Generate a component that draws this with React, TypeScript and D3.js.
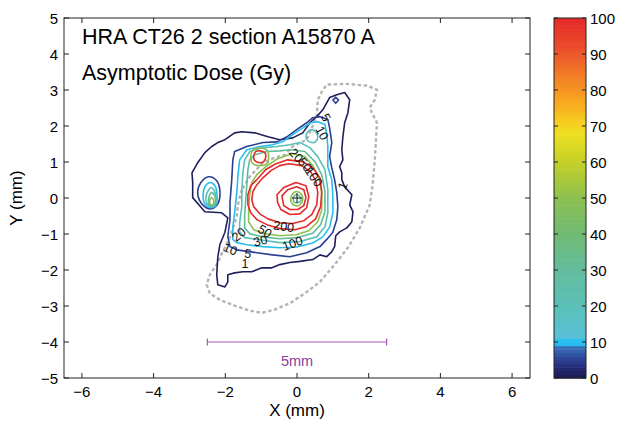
import React from 'react';
import * as d3 from 'd3';

type Pt = [number, number];

const X_TICKS = [-6, -4, -2, 0, 2, 4, 6];
const Y_TICKS = [-5, -4, -3, -2, -1, 0, 1, 2, 3, 4, 5];
const CB_TICKS = [0, 10, 20, 30, 40, 50, 60, 70, 80, 90, 100];
const X_DOMAIN: Pt = [-6.5, 6.5];
const Y_DOMAIN: Pt = [-5, 5];
const CB_DOMAIN: Pt = [0, 100];

const CMAP_VALUES = [0, 3, 6, 8.5, 9, 10.5, 11, 20, 30, 40, 50, 60, 68, 72, 78, 85, 92, 100];
const CMAP_COLORS = ['#1c1a50', '#262a78', '#2e4a9c', '#3a70b8', '#28b8ee', '#28c0f0', '#58c0d8', '#5cc0b8', '#62bc9c', '#70ba74', '#8cc050', '#c4d028', '#eee020', '#f8c820', '#f8a020', '#f07828', '#ec4c2c', '#e62a2a'];

const TITLE_LINES = ['HRA CT26 2 section A15870 A', 'Asymptotic Dose (Gy)'];
const SCALE_BAR = { x0: -2.5, x1: 2.5, y: -4, label: '5mm', labelY: -4.68 };

// contour paths, in mm
const L1_MAIN: Pt[] = [[1.11,2.87],[1.33,2.93],[1.47,2.73],[1.42,2.37],[1.33,2.09],[1.28,1.70],[1.25,1.34],[1.28,1.06],[1.19,0.87],[1.25,0.70],[1.25,0.51],[1.33,0.31],[1.53,0.09],[1.47,-0.19],[1.56,-0.38],[1.53,-0.66],[1.39,-0.83],[1.19,-0.94],[1.08,-1.05],[1.05,-1.35],[0.97,-1.49],[0.83,-1.63],[0.64,-1.58],[0.44,-1.71],[0.08,-1.76],[-0.20,-1.79],[-0.48,-1.85],[-0.70,-1.94],[-0.98,-1.94],[-1.26,-2.05],[-1.51,-2.05],[-1.74,-2.08],[-1.93,-2.13],[-1.93,-2.33],[-2.01,-2.47],[-2.21,-2.41],[-2.24,-2.13],[-2.21,-1.65],[-2.15,-1.29],[-2.01,-0.95],[-1.93,-0.55],[-2.10,-0.41],[-2.57,-0.38],[-2.91,0.01],[-2.91,0.43],[-2.93,0.70],[-2.77,0.98],[-2.57,1.26],[-2.38,1.43],[-2.21,1.54],[-2.01,1.62],[-1.74,1.81],[-1.54,1.84],[-1.18,1.81],[-0.81,1.70],[-0.48,1.62],[-0.12,1.67],[0.16,1.81],[0.36,2.09],[0.55,2.26],[0.72,2.45],[0.91,2.79]];
const L5_MAIN: Pt[] = [[0.64,2.26],[0.86,2.18],[0.91,1.95],[0.97,1.54],[0.91,1.15],[0.97,0.84],[1.05,0.51],[1.11,0.15],[1.14,-0.24],[1.11,-0.60],[1.00,-0.95],[0.83,-1.15],[0.64,-1.35],[0.27,-1.52],[-0.20,-1.63],[-0.68,-1.58],[-1.12,-1.52],[-1.68,-1.44],[-1.87,-1.35],[-1.93,-1.07],[-1.87,-0.60],[-1.87,-0.13],[-1.82,0.51],[-1.79,1.06],[-1.74,1.29],[-1.40,1.43],[-0.95,1.54],[-0.56,1.56],[-0.28,1.70],[-0.01,1.90],[0.27,2.09],[0.44,2.23]];
const L5_LOBE: Pt[] = [[-2.46,0.59],[-2.24,0.48],[-2.15,0.18],[-2.21,-0.16],[-2.40,-0.30],[-2.63,-0.19],[-2.77,0.12],[-2.68,0.43]];
const L5_SPOT: Pt[] = [[1.08,2.80],[1.16,2.72],[1.08,2.63],[1.00,2.72]];
const L10_MAIN: Pt[] = [[0.58,2.12],[0.78,2.04],[0.83,1.76],[0.86,1.43],[0.86,0.87],[0.97,0.51],[1.00,0.04],[1.00,-0.41],[0.91,-0.81],[0.72,-1.08],[0.44,-1.25],[-0.01,-1.36],[-0.48,-1.38],[-0.95,-1.35],[-1.40,-1.30],[-1.68,-1.24],[-1.79,-1.15],[-1.79,-0.80],[-1.74,-0.41],[-1.68,0.15],[-1.65,0.59],[-1.60,1.06],[-1.40,1.34],[-1.04,1.43],[-0.68,1.48],[-0.40,1.56],[-0.12,1.76],[0.16,1.95],[0.38,2.09]];
const L10_LOBE: Pt[] = [[-2.43,0.43],[-2.29,0.34],[-2.23,0.06],[-2.26,-0.19],[-2.40,-0.27],[-2.57,-0.16],[-2.62,0.09],[-2.57,0.31]];
const L20_MAIN: Pt[] = [[0.08,1.54],[0.36,1.40],[0.58,1.15],[0.78,0.79],[0.86,0.23],[0.86,-0.41],[0.78,-0.80],[0.55,-1.08],[0.08,-1.21],[-0.48,-1.24],[-1.04,-1.16],[-1.46,-1.10],[-1.60,-0.94],[-1.60,-0.69],[-1.54,-0.24],[-1.54,0.23],[-1.51,0.70],[-1.46,1.06],[-1.32,1.29],[-0.95,1.40],[-0.56,1.43],[-0.20,1.48]];
const L20_LOBE: Pt[] = [[-2.40,0.29],[-2.32,0.23],[-2.26,0.01],[-2.29,-0.19],[-2.40,-0.24],[-2.51,-0.16],[-2.54,0.04],[-2.48,0.20]];
const L20_SPOT: Pt[] = [[0.41,1.90],[0.52,1.84],[0.58,1.70],[0.52,1.56],[0.41,1.54],[0.30,1.59],[0.25,1.70],[0.30,1.84]];
const L30_MAIN: Pt[] = [[-0.20,1.34],[0.22,1.29],[0.50,1.01],[0.69,0.65],[0.78,0.18],[0.78,-0.38],[0.66,-0.74],[0.44,-0.98],[0.02,-1.10],[-0.48,-1.13],[-0.98,-1.08],[-1.32,-0.99],[-1.46,-0.83],[-1.46,-0.46],[-1.43,-0.05],[-1.40,0.37],[-1.37,0.79],[-1.32,1.06],[-1.18,1.20],[-0.84,1.29],[-0.48,1.31]];
const L30_LOBE: Pt[] = [[-2.38,0.15],[-2.29,0.04],[-2.29,-0.16],[-2.38,-0.21],[-2.46,-0.16],[-2.46,0.01]];
const L30_CENTER: Pt[] = [[-0.01,0.09],[0.08,0.04],[0.11,-0.07],[0.02,-0.13],[-0.09,-0.10],[-0.09,0.04]];
const L50_MAIN: Pt[] = [[-0.15,1.23],[0.22,1.15],[0.44,0.90],[0.61,0.56],[0.69,0.15],[0.69,-0.33],[0.58,-0.66],[0.33,-0.91],[-0.03,-1.02],[-0.48,-1.05],[-0.90,-0.99],[-1.21,-0.88],[-1.35,-0.66],[-1.35,-0.33],[-1.32,0.09],[-1.26,0.43],[-1.12,0.65],[-0.87,0.87],[-0.54,1.09]];
const L50_LOBE: Pt[] = [[-2.38,0.01],[-2.32,-0.08],[-2.35,-0.19],[-2.43,-0.16],[-2.43,-0.05]];
const L50_RING: Pt[] = [[-1.04,1.39],[-0.84,1.33],[-0.79,1.15],[-0.84,0.95],[-1.04,0.90],[-1.23,0.95],[-1.29,1.15],[-1.23,1.33]];
const L50_CENTER: Pt[] = [[-0.01,0.18],[0.13,0.09],[0.16,-0.05],[0.08,-0.19],[-0.06,-0.21],[-0.17,-0.10],[-0.14,0.09]];
const L100_MAIN: Pt[] = [[-0.26,1.06],[0.16,1.01],[0.44,0.84],[0.64,0.56],[0.69,0.18],[0.66,-0.24],[0.52,-0.58],[0.25,-0.80],[-0.06,-0.88],[-0.48,-0.85],[-0.84,-0.74],[-1.12,-0.60],[-1.29,-0.41],[-1.37,-0.19],[-1.37,0.09],[-1.29,0.34],[-1.09,0.54],[-0.87,0.79],[-0.59,0.95]];
const L100_SPOT: Pt[] = [[-1.04,1.31],[-0.90,1.26],[-0.87,1.15],[-0.93,1.01],[-1.04,0.98],[-1.18,1.04],[-1.21,1.15],[-1.15,1.29]];
const L100_CENTER: Pt[] = [[-0.56,0.09],[-0.37,0.29],[-0.03,0.43],[0.25,0.34],[0.33,0.04],[0.27,-0.27],[0.08,-0.44],[-0.20,-0.46],[-0.45,-0.32],[-0.54,-0.13]];
const L200_MAIN: Pt[] = [[-0.23,0.95],[0.13,0.90],[0.38,0.73],[0.52,0.48],[0.58,0.15],[0.55,-0.19],[0.41,-0.46],[0.19,-0.63],[-0.12,-0.71],[-0.48,-0.69],[-0.81,-0.58],[-1.04,-0.44],[-1.21,-0.24],[-1.26,-0.05],[-1.23,0.18],[-1.12,0.37],[-0.95,0.56],[-0.73,0.76],[-0.48,0.90]];
const L200_CENTER: Pt[] = [[-0.42,0.06],[-0.26,0.23],[-0.01,0.31],[0.19,0.23],[0.25,0.01],[0.19,-0.21],[0.02,-0.32],[-0.20,-0.32],[-0.37,-0.21]];

const TUMOUR_OUTLINE: Pt[] = [[-1.54,0.23],[-1.65,-0.19],[-1.68,-0.52],[-1.87,-1.09],[-2.07,-1.49],[-2.24,-1.85],[-2.43,-2.13],[-2.52,-2.41],[-2.43,-2.65],[-2.15,-2.83],[-1.74,-2.99],[-1.32,-3.13],[-0.98,-3.19],[-0.62,-3.10],[-0.17,-2.91],[0.27,-2.61],[0.64,-2.33],[1.05,-1.85],[1.42,-1.38],[1.75,-0.83],[2.03,-0.19],[2.11,0.37],[2.17,1.06],[2.23,2.09],[2.09,2.37],[2.03,2.51],[2.17,2.73],[2.23,3.01],[1.95,3.12],[1.39,3.17],[0.83,3.15],[0.69,2.95],[0.58,2.73],[0.55,2.26],[0.27,1.62],[-0.12,1.43],[-0.34,1.20],[-0.62,1.12],[-0.95,0.98],[-1.32,0.59]];

const CONTOURS: { level: number; pts: Pt[]; smooth: boolean }[] = [
  { level: 1, pts: L1_MAIN, smooth: false },
  { level: 5, pts: L5_MAIN, smooth: false },
  { level: 5, pts: L5_LOBE, smooth: true },
  { level: 5, pts: L5_SPOT, smooth: false },
  { level: 10, pts: L10_MAIN, smooth: false },
  { level: 10, pts: L10_LOBE, smooth: true },
  { level: 20, pts: L20_MAIN, smooth: false },
  { level: 20, pts: L20_LOBE, smooth: true },
  { level: 20, pts: L20_SPOT, smooth: true },
  { level: 30, pts: L30_MAIN, smooth: false },
  { level: 30, pts: L30_LOBE, smooth: true },
  { level: 30, pts: L30_CENTER, smooth: true },
  { level: 50, pts: L50_MAIN, smooth: false },
  { level: 50, pts: L50_LOBE, smooth: true },
  { level: 50, pts: L50_RING, smooth: true },
  { level: 50, pts: L50_CENTER, smooth: true },
  { level: 100, pts: L100_MAIN, smooth: false },
  { level: 100, pts: L100_SPOT, smooth: true },
  { level: 100, pts: L100_CENTER, smooth: false },
  { level: 200, pts: L200_MAIN, smooth: false },
  { level: 200, pts: L200_CENTER, smooth: false },
];

const CONTOUR_LABELS: { text: string; x: number; y: number; angle: number }[] = [
  { text: '1', x: 1.28, y: 0.34, angle: -70 },
  { text: '1', x: -1.45, y: -1.83, angle: 0 },
  { text: '5', x: -1.37, y: -1.55, angle: 10 },
  { text: '10', x: -1.86, y: -1.43, angle: 22 },
  { text: '20', x: -1.62, y: -1.02, angle: -40 },
  { text: '30', x: -1.02, y: -1.2, angle: -15 },
  { text: '50', x: -0.9, y: -0.93, angle: 32 },
  { text: '200', x: -0.37, y: -0.8, angle: 8 },
  { text: '100', x: -0.12, y: -1.27, angle: -20 },
  { text: '5', x: 0.8, y: 2.23, angle: 62 },
  { text: '10', x: 0.69, y: 1.8, angle: 62 },
  { text: '20', x: -0.03, y: 1.18, angle: 48 },
  { text: '50', x: 0.22, y: 0.92, angle: 50 },
  { text: '100', x: 0.46, y: 0.58, angle: 55 },
];

const PLOT = { left: 64, top: 18, width: 466, height: 360 };
const CB = { left: 554, top: 18, width: 32, height: 360 };
const FONT = '"Liberation Sans", Arial, Helvetica, sans-serif';

export default function App() {
  const x = d3.scaleLinear().domain(X_DOMAIN).range([PLOT.left, PLOT.left + PLOT.width]);
  const y = d3.scaleLinear().domain(Y_DOMAIN).range([PLOT.top + PLOT.height, PLOT.top]);
  const cbY = d3.scaleLinear().domain(CB_DOMAIN).range([CB.top + CB.height, CB.top]);
  const cmap = d3.scaleLinear<string>().domain(CMAP_VALUES).range(CMAP_COLORS).interpolate(d3.interpolateRgb).clamp(true);

  const linePoly = d3.line<Pt>().x((d) => x(d[0])).y((d) => y(d[1])).curve(d3.curveLinearClosed);
  const lineSmooth = d3.line<Pt>().x((d) => x(d[0])).y((d) => y(d[1])).curve(d3.curveCatmullRomClosed.alpha(0.5));

  const bands = d3.range(0, 100, 1);
  const tick = 5;
  const bottom = PLOT.top + PLOT.height;
  const right = PLOT.left + PLOT.width;

  return (
    <svg width={617} height={422} style={{ position: 'absolute', left: 0, top: 0, background: '#fff' }} fontFamily={FONT}>
      <rect x={0} y={0} width={617} height={422} fill="#fff" />
      <defs>
        <clipPath id="plotclip">
          <rect x={PLOT.left} y={PLOT.top} width={PLOT.width} height={PLOT.height} />
        </clipPath>
      </defs>
      <g clipPath="url(#plotclip)">
        <path d={linePoly(TUMOUR_OUTLINE) || ''} fill="none" stroke="#b4b4b4" strokeWidth={2.4} strokeDasharray="3.5,2.5" />
        {CONTOURS.map((c, i) => (
          <path
            key={i}
            d={(c.smooth ? lineSmooth(c.pts) : linePoly(c.pts)) || ''}
            fill="none"
            stroke={cmap(Math.min(c.level, 100))}
            strokeWidth={1.6}
            strokeLinejoin="round"
          />
        ))}
        {CONTOUR_LABELS.map((l, i) => (
          <text
            key={i}
            x={x(l.x)}
            y={y(l.y)}
            fontSize={12.5}
            textAnchor="middle"
            dominantBaseline="central"
            transform={`rotate(${l.angle},${x(l.x)},${y(l.y)})`}
            fill="#111"
          >
            {l.text}
          </text>
        ))}
        {/* centre marker */}
        <line x1={x(0) - 5} x2={x(0) + 5} y1={y(0)} y2={y(0)} stroke="#111" strokeWidth={1} />
        <line x1={x(0)} x2={x(0)} y1={y(0) - 5} y2={y(0) + 5} stroke="#111" strokeWidth={1} />
        {/* scale bar */}
        <line x1={x(SCALE_BAR.x0)} x2={x(SCALE_BAR.x1)} y1={y(SCALE_BAR.y)} y2={y(SCALE_BAR.y)} stroke="#a458b4" strokeWidth={1.2} />
        <line x1={x(SCALE_BAR.x0)} x2={x(SCALE_BAR.x0)} y1={y(SCALE_BAR.y) - 3.5} y2={y(SCALE_BAR.y) + 3.5} stroke="#a458b4" strokeWidth={1.2} />
        <line x1={x(SCALE_BAR.x1)} x2={x(SCALE_BAR.x1)} y1={y(SCALE_BAR.y) - 3.5} y2={y(SCALE_BAR.y) + 3.5} stroke="#a458b4" strokeWidth={1.2} />
        <text x={x(0)} y={y(SCALE_BAR.labelY)} fontSize={14.5} textAnchor="middle" fill="#8a3c9c">{SCALE_BAR.label}</text>
      </g>

      {/* titles */}
      <text x={82} y={43.5} fontSize={21.5} fill="#000">{TITLE_LINES[0]}</text>
      <text x={82} y={79.5} fontSize={21.5} fill="#000">{TITLE_LINES[1]}</text>

      {/* axes box */}
      <rect x={PLOT.left} y={PLOT.top} width={PLOT.width} height={PLOT.height} fill="none" stroke="#222" strokeWidth={1} />
      {X_TICKS.map((t) => (
        <g key={'x' + t}>
          <line x1={x(t)} x2={x(t)} y1={bottom} y2={bottom - tick} stroke="#222" />
          <line x1={x(t)} x2={x(t)} y1={PLOT.top} y2={PLOT.top + tick} stroke="#222" />
          <text x={x(t)} y={397} fontSize={15} textAnchor="middle" fill="#000">{t < 0 ? '\u2212' + Math.abs(t) : String(t)}</text>
        </g>
      ))}
      {Y_TICKS.map((t) => (
        <g key={'y' + t}>
          <line x1={PLOT.left} x2={PLOT.left + tick} y1={y(t)} y2={y(t)} stroke="#222" />
          <line x1={right} x2={right - tick} y1={y(t)} y2={y(t)} stroke="#222" />
          <text x={58} y={y(t)} fontSize={15} textAnchor="end" dominantBaseline="central" fill="#000">{t < 0 ? '\u2212' + Math.abs(t) : String(t)}</text>
        </g>
      ))}
      <text x={x(0)} y={416} fontSize={17} textAnchor="middle" fill="#000">X (mm)</text>
      <text x={0} y={0} fontSize={17} textAnchor="middle" fill="#000" transform={`translate(22,${y(0)}) rotate(-90)`}>Y (mm)</text>

      {/* colorbar */}
      {bands.map((b) => (
        <rect key={b} x={CB.left} y={cbY(b + 1)} width={CB.width} height={cbY(b) - cbY(b + 1) + 0.6} fill={cmap(b + 0.5)} />
      ))}
      <rect x={CB.left} y={CB.top} width={CB.width} height={CB.height} fill="none" stroke="#222" strokeWidth={1} />
      {CB_TICKS.map((t) => (
        <g key={'c' + t}>
          <line x1={CB.left} x2={CB.left + 4} y1={cbY(t)} y2={cbY(t)} stroke="#222" />
          <line x1={CB.left + CB.width} x2={CB.left + CB.width - 4} y1={cbY(t)} y2={cbY(t)} stroke="#222" />
          <text x={590} y={cbY(t)} fontSize={15} dominantBaseline="central" fill="#000">{t}</text>
        </g>
      ))}
    </svg>
  );
}
